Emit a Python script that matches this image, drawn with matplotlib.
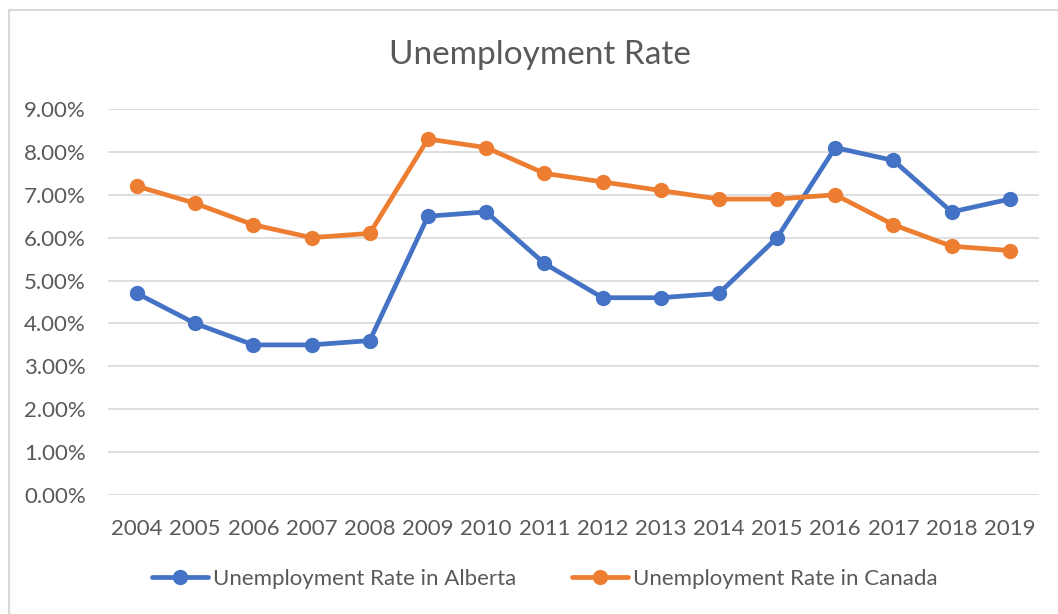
import matplotlib.pyplot as plt
from matplotlib.ticker import PercentFormatter
from matplotlib.patches import Rectangle

years = ['2004', '2005', '2006', '2007', '2008', '2009', '2010', '2011',
         '2012', '2013', '2014', '2015', '2016', '2017', '2018', '2019']
alberta = [4.7, 4.0, 3.5, 3.5, 3.6, 6.5, 6.6, 5.4, 4.6, 4.6, 4.7, 6.0, 8.1, 7.8, 6.6, 6.9]
canada = [7.2, 6.8, 6.3, 6.0, 6.1, 8.3, 8.1, 7.5, 7.3, 7.1, 6.9, 6.9, 7.0, 6.3, 5.8, 5.7]

txt = '#595959'
plt.rcParams['font.family'] = ['Lato', 'DejaVu Sans']

fig = plt.figure(figsize=(10.58, 6.14), dpi=100)
ax = fig.add_axes([0.102, 0.1938, 0.880, 0.6287])

x = range(len(years))
ax.plot(x, alberta, color='#4472C4', lw=3.4, marker='o', ms=10,
        label='Unemployment Rate in Alberta', solid_capstyle='round')
ax.plot(x, canada, color='#ED7D31', lw=3.4, marker='o', ms=10,
        label='Unemployment Rate in Canada', solid_capstyle='round')

ax.set_xlim(-0.5, len(years) - 0.5)
ax.set_ylim(0, 9)
ax.set_yticks(range(10))
ax.yaxis.set_major_formatter(PercentFormatter(decimals=2))
ax.set_xticks(list(x))
ax.set_xticklabels(years)
ax.grid(axis='y', color='#D9D9D9', lw=1.2)
ax.set_axisbelow(True)
for s in ax.spines.values():
    s.set_visible(False)
ax.tick_params(length=0, labelsize=16, labelcolor=txt)
ax.tick_params(axis='x', pad=17)
ax.tick_params(axis='y', pad=16)

fig.text(0.51, 0.91, 'Unemployment Rate', ha='center', va='center',
         fontsize=24, color=txt)

fig.legend(loc='center', bbox_to_anchor=(0.515, 0.057), ncol=2, frameon=False,
           fontsize=16, labelcolor=txt, handlelength=2.5, columnspacing=2.5,
           handletextpad=0.25)

# chart frame: only the left and top edges fall inside the image
fig.patches.append(Rectangle((9 / 1058, -0.1), 1.2, 1.1 - 10 / 614,
                             transform=fig.transFigure, fill=False,
                             ec='#D9D9D9', lw=1.5))

fig.savefig('out.png', dpi=100, facecolor='white')
